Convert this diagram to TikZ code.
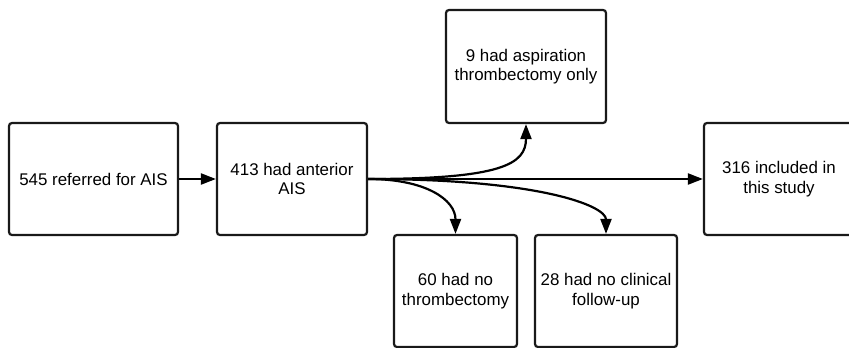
\documentclass[tikz,border=0pt]{standalone}
\usepackage{fontspec}
\setmainfont{Liberation Sans}
\usetikzlibrary{arrows.meta}
\begin{document}
\begin{tikzpicture}[x=1pt,y=-1pt,
  box/.style={draw=black!90,line width=2.2pt,rounded corners=3pt,fill=white,align=center,
    font=\fontsize{16.9}{19.6}\selectfont,inner sep=0pt},
  conn/.style={line width=2.2pt,-{Triangle[length=15pt,width=11pt]}}]
\fill[white] (0,0) rectangle (849,348);
\clip (0,0) rectangle (849,348);
\useasboundingbox (0,0) rectangle (849,348);
\node[box,minimum width=169pt,minimum height=112pt] (b1) at (93.5,179) {545 referred for AIS};
\node[box,minimum width=150pt,minimum height=112pt] (b2) at (292,179) {413 had anterior\\AIS};
\node[box,minimum width=160pt,minimum height=113pt] (b3) at (526,66.5) {9 had aspiration\\thrombectomy only};
\node[box,minimum width=150pt,minimum height=112pt] (b4) at (779,179) {316 included in\\this study};
\node[box,minimum width=123pt,minimum height=112pt] (b5) at (455.5,291) {60 had no\\thrombectomy};
\node[box,minimum width=142pt,minimum height=112pt] (b6) at (606,291) {28 had no clinical\\follow-up};
\draw[conn] (b1.east) -- (b2.west);
\draw[conn] (b2.east) -- (b4.west);
\draw[conn] (b2.east) .. controls +(134,0) and +(0,40) .. (b3.south);
\draw[conn] (b2.east) .. controls +(58,0) and +(0,-34) .. (b5.north);
\draw[conn] (b2.east) .. controls +(172,0) and +(0,-28) .. (b6.north);
\end{tikzpicture}
\end{document}
